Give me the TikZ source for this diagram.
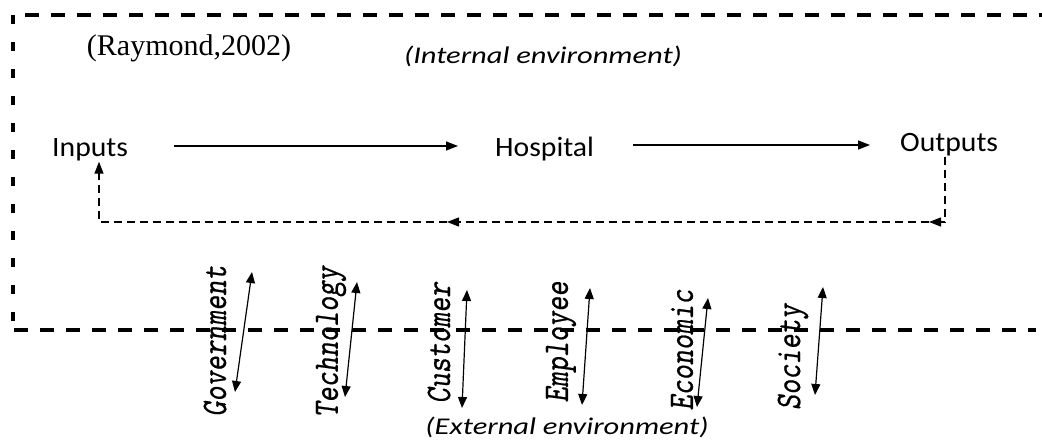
\documentclass[tikz,border=0pt]{standalone}
\usepackage{fontspec}
\setmainfont{Carlito}[FakeStretch=1.06]
\newfontfamily\envfont{Carlito}[FakeStretch=1.27]
\newfontfamily\rayfont{Liberation Serif}
\newfontfamily\monoit{lmmonoslant10-regular.otf}[FakeStretch=0.8,FakeBold=0.6]
\usetikzlibrary{arrows.meta,calc}
\begin{document}
\begin{tikzpicture}[x=1pt,y=-1pt,
  boxline/.style={line width=3.2pt},
  hdash/.style={boxline, dash pattern=on 14pt off 12pt},
  vdash/.style={boxline, dash pattern=on 9pt off 18pt},
  flow/.style={line width=1.4pt,-{Triangle[length=12pt,width=9pt]}},
  fb/.style={line width=1.4pt,dash pattern=on 8pt off 5pt},
  tipend/.style={-{Triangle[length=12pt,width=9pt]}},
  dbl/.style={line width=1.2pt,{Triangle[length=11pt,width=9pt]}-{Triangle[length=11pt,width=9pt]}},
  lbl/.style={font=\fontsize{28}{30}\selectfont, inner sep=0pt, anchor=base west},
  env/.style={font=\envfont\itshape\fontsize{24}{26}\selectfont, inner sep=0pt},
  extlbl/.style={font=\monoit\fontsize{36}{38}\selectfont, rotate=90, inner sep=0pt}]
\useasboundingbox (0,0) rectangle (1042,441);

% environment boundary
\draw[vdash] (13,15) -- (13,333);
\draw[hdash] (25,15) -- (1042,15);
\draw[hdash] (14,330) -- (1036,330);

% texts
\node[font=\rayfont\fontsize{30}{32}\selectfont, inner sep=0pt] (ray) at (189,48) {(Raymond,2002)};
\node[env] (int) at (543,56) {(Internal environment)};
\node[lbl] (in) at (52,157) {Inputs};
\node[lbl] (hos) at (495,157) {Hospital};
\node[lbl] (out) at (900,152) {Outputs};
\node[env] (ext) at (567,427) {(External environment)};

% main flow
\draw[flow] ($(in.base east)+(46,-11)$) -- ($(hos.base west)+(-37,-11)$);
\draw[flow] ($(hos.base east)+(39,-12)$) -- ($(out.base west)+(-30,-7)$);

% feedback loop
\coordinate (fb1) at (945,222);
\coordinate (fb1a) at (929,222);
\coordinate (fb2) at (447,222);
\coordinate (fb3) at (99,222);
\draw[fb] (out.south -| fb1) -- (fb1);
\draw[fb,tipend] (fb1) -- (fb1a);
\draw[fb,tipend] (fb1a) -- (fb2);
\draw[fb,tipend] (fb2) -- (fb3) -- (in.south -| fb3);

% external factors
\node[extlbl] (gov) at (215,341) {Government};
\node[extlbl] (tec) at (331,342) {Technology};
\node[extlbl] (cus) at (439,343) {Customer};
\node[extlbl] (emp) at (561,342) {Employee};
\node[extlbl] (eco) at (682,350) {Economic};
\node[extlbl] (soc) at (793,357) {Society};

\coordinate (govT) at (252,272); \coordinate (govB) at (235,392);
\coordinate (tecT) at (357,282); \coordinate (tecB) at (345,397);
\coordinate (cusT) at (467,290); \coordinate (cusB) at (462,408);
\coordinate (empT) at (590,288); \coordinate (empB) at (582,405);
\coordinate (ecoT) at (708,298); \coordinate (ecoB) at (697,407);
\coordinate (socT) at (823,287); \coordinate (socB) at (815,395);
\draw[dbl] (govT) -- (govB);
\draw[dbl] (tecT) -- (tecB);
\draw[dbl] (cusT) -- (cusB);
\draw[dbl] (empT) -- (empB);
\draw[dbl] (ecoT) -- (ecoB);
\draw[dbl] (socT) -- (socB);
\end{tikzpicture}
\end{document}
